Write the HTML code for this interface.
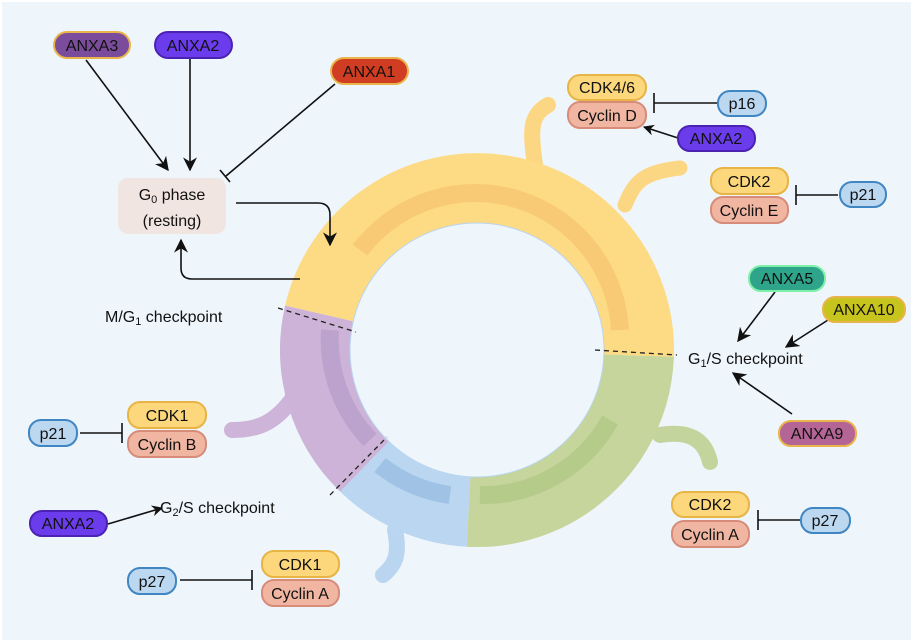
<!DOCTYPE html>
<html><head><meta charset="utf-8"><style>
html,body{margin:0;padding:0;background:#fff}
svg{display:block}
text{font-family:"Liberation Sans",sans-serif;font-size:16px;fill:#111}
</style></head><body>
<svg width="915" height="644" viewBox="0 0 915 644" xmlns="http://www.w3.org/2000/svg">
<defs>
<marker id="ah" viewBox="0 0 10 10" refX="9" refY="5" markerWidth="11" markerHeight="11" orient="auto" markerUnits="userSpaceOnUse"><path d="M0,0L10,5L0,10L3,5z" fill="#111"/></marker>
<marker id="ah2" viewBox="0 0 10 10" refX="9" refY="5" markerWidth="14" markerHeight="14" orient="auto" markerUnits="userSpaceOnUse"><path d="M0,0L10,5L0,10L3,5z" fill="#111"/></marker>
</defs>
<rect x="2" y="2" width="909" height="638" fill="#eef6fc"/>
<g fill="none" stroke-linecap="round" stroke-width="16">
<path d="M535,165 C530,130 530,115 548,105" stroke="#fcd783"/>
<path d="M625,205 C635,180 645,172 680,168" stroke="#fcd783" stroke-width="15"/>
<path d="M660,435 C690,430 705,440 710,462" stroke="#c3d49c"/>
<path d="M395,530 C400,555 395,565 383,575" stroke="#b9d5ef"/>
<path d="M295,395 C275,425 255,430 232,430" stroke="#cdb4d8"/>
</g>
<g fill="none" stroke-width="70">
<path d="M319.2,313.5 A162,162 0 0 1 638.9,355.7" stroke="#fdda84"/>
<path d="M638.9,355.7 A162,162 0 0 1 468.5,511.8" stroke="#c5d59c"/>
<path d="M468.5,511.8 A162,162 0 0 1 364.5,466.5" stroke="#bad6f0"/>
<path d="M364.5,466.5 A162,162 0 0 1 319.2,313.5" stroke="#ccb3d7"/>
</g>
<g fill="none" stroke-width="18" opacity="0.6">
<path d="M360,250 A145,145 0 0 1 620,330" stroke="#f7bf6a"/>
<path d="M610,420 A145,145 0 0 1 480,495" stroke="#a9c57e"/>
<path d="M450,495 A145,145 0 0 1 380,465" stroke="#8eb6df"/>
<path d="M370,440 A145,145 0 0 1 330,330" stroke="#b39ac8"/>
</g>
<circle cx="477" cy="350" r="127" fill="#eef6fc" stroke="#b9d5ef" stroke-width="1"/>
<g stroke="#222" stroke-width="1.3" stroke-dasharray="5,4">
<line x1="278" y1="308" x2="356" y2="332"/>
<line x1="595" y1="350" x2="677" y2="355"/>
<line x1="330" y1="495" x2="387" y2="437"/>
</g>
<rect x="118" y="178" width="108" height="56" rx="10" fill="#f1e5e2"/>
<text x="172" y="200" text-anchor="middle" font-size="17">G<tspan font-size="11" dy="3">0</tspan><tspan dy="-3"> phase</tspan></text>
<text x="172" y="226" text-anchor="middle" font-size="17">(resting)</text>
<g stroke="#111" stroke-width="1.6" fill="none">
<line x1="86" y1="60" x2="168" y2="170" marker-end="url(#ah2)"/>
<line x1="190" y1="58" x2="190" y2="170" marker-end="url(#ah2)"/>
<line x1="335" y1="84" x2="226" y2="176"/>
<line x1="220" y1="170" x2="230" y2="182"/>
<path d="M236,203 L318,203 Q330,203 330,215 L330,245" marker-end="url(#ah2)"/>
<path d="M300,279 L192,279 Q181,279 181,268 L181,240" marker-end="url(#ah2)"/>
<line x1="718" y1="103" x2="654" y2="103"/><line x1="654" y1="93" x2="654" y2="113"/>
<line x1="678" y1="138" x2="644" y2="127" marker-end="url(#ah)"/>
<line x1="838" y1="195" x2="796" y2="195"/><line x1="796" y1="185" x2="796" y2="205"/>
<line x1="775" y1="292" x2="738" y2="341" marker-end="url(#ah2)"/>
<line x1="828" y1="320" x2="786" y2="347" marker-end="url(#ah2)"/>
<line x1="792" y1="414" x2="733" y2="373" marker-end="url(#ah2)"/>
<line x1="800" y1="520" x2="758" y2="520"/><line x1="758" y1="510" x2="758" y2="530"/>
<line x1="80" y1="433" x2="122" y2="433"/><line x1="122" y1="423" x2="122" y2="443"/>
<line x1="108" y1="524" x2="162" y2="508" marker-end="url(#ah)"/>
<line x1="180" y1="580" x2="252" y2="580"/><line x1="252" y1="570" x2="252" y2="590"/>
</g>
<text x="105" y="322" font-size="17">M/G<tspan font-size="11" dy="3">1</tspan><tspan dy="-3"> checkpoint</tspan></text>
<text x="688" y="364" font-size="17">G<tspan font-size="11" dy="3">1</tspan><tspan dy="-3">/S checkpoint</tspan></text>
<text x="160" y="513" font-size="17">G<tspan font-size="11" dy="3">2</tspan><tspan dy="-3">/S checkpoint</tspan></text>
<g stroke-width="2">
<rect x="54" y="32" width="76" height="26" rx="13" fill="#7b4c9c" stroke="#e9b44a"/>
<rect x="155" y="32" width="77" height="26" rx="13" fill="#6a3cec" stroke="#4b22b2"/>
<rect x="331" y="58" width="77" height="26" rx="13" fill="#d13d22" stroke="#e9b44a"/>
<rect x="568" y="75" width="78" height="25" rx="12" fill="#fdd77c" stroke="#e7b445"/>
<rect x="568" y="102" width="78" height="26" rx="12" fill="#f1b6a2" stroke="#d78c79"/>
<rect x="718" y="91" width="48" height="25" rx="12" fill="#bcd7f0" stroke="#3f86c2"/>
<rect x="678" y="126" width="77" height="25" rx="12" fill="#6a3cec" stroke="#4b22b2"/>
<rect x="711" y="168" width="77" height="26" rx="12" fill="#fdd77c" stroke="#e7b445"/>
<rect x="711" y="197" width="77" height="26" rx="12" fill="#f1b6a2" stroke="#d78c79"/>
<rect x="840" y="182" width="46" height="25" rx="12" fill="#bcd7f0" stroke="#3f86c2"/>
<rect x="749" y="266" width="76" height="25" rx="12" fill="#2ea48a" stroke="#7ef0a8"/>
<rect x="823" y="297" width="82" height="25" rx="12" fill="#c8c41e" stroke="#e9b44a"/>
<rect x="779" y="421" width="77" height="25" rx="12" fill="#b46596" stroke="#e9b44a"/>
<rect x="672" y="492" width="77" height="25" rx="12" fill="#fdd77c" stroke="#e7b445"/>
<rect x="672" y="521" width="77" height="26" rx="12" fill="#f1b6a2" stroke="#d78c79"/>
<rect x="801" y="508" width="49" height="25" rx="12" fill="#bcd7f0" stroke="#3f86c2"/>
<rect x="29" y="420" width="48" height="26" rx="12" fill="#bcd7f0" stroke="#3f86c2"/>
<rect x="128" y="402" width="78" height="26" rx="12" fill="#fdd77c" stroke="#e7b445"/>
<rect x="128" y="431" width="78" height="26" rx="12" fill="#f1b6a2" stroke="#d78c79"/>
<rect x="30" y="511" width="77" height="25" rx="12" fill="#6a3cec" stroke="#4b22b2"/>
<rect x="128" y="568" width="48" height="26" rx="12" fill="#bcd7f0" stroke="#3f86c2"/>
<rect x="262" y="551" width="77" height="26" rx="12" fill="#fdd77c" stroke="#e7b445"/>
<rect x="262" y="580" width="77" height="26" rx="12" fill="#f1b6a2" stroke="#d78c79"/>
</g>
<g text-anchor="middle" font-size="16">
<text x="92" y="51">ANXA3</text>
<text x="193" y="51">ANXA2</text>
<text x="369" y="77">ANXA1</text>
<text x="607" y="93">CDK4/6</text>
<text x="607" y="121">Cyclin D</text>
<text x="742" y="109">p16</text>
<text x="716" y="144">ANXA2</text>
<text x="749" y="187">CDK2</text>
<text x="749" y="216">Cyclin E</text>
<text x="863" y="200">p21</text>
<text x="787" y="284">ANXA5</text>
<text x="864" y="315">ANXA10</text>
<text x="817" y="439">ANXA9</text>
<text x="710" y="510">CDK2</text>
<text x="710" y="540">Cyclin A</text>
<text x="825" y="526">p27</text>
<text x="53" y="439">p21</text>
<text x="167" y="421">CDK1</text>
<text x="167" y="450">Cyclin B</text>
<text x="68" y="529">ANXA2</text>
<text x="152" y="587">p27</text>
<text x="300" y="570">CDK1</text>
<text x="300" y="599">Cyclin A</text>
</g>
</svg>
</body></html>
